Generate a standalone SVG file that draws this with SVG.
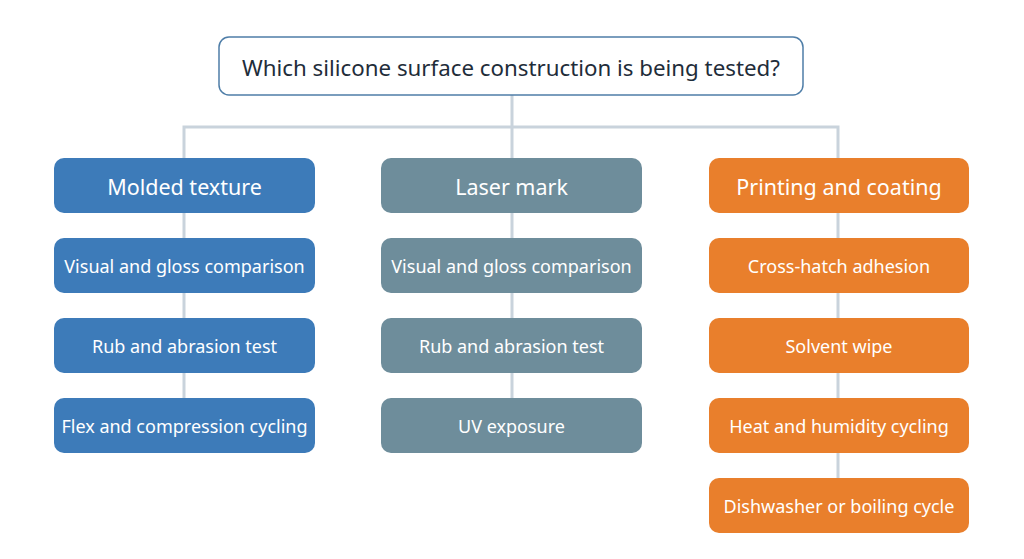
<svg xmlns="http://www.w3.org/2000/svg" width="1024" height="559" viewBox="0 0 1024 559">
<style>
text{font-family:"Noto Sans","Open Sans","Liberation Sans",sans-serif;text-anchor:middle;dominant-baseline:central;fill:#fff}
.q{fill:#fff;stroke:#4f7ea8;stroke-width:1.5}
.qt{fill:#1f2d3a;font-size:22.3px}
.b{fill:#3d7bb9}.s{fill:#6e8d9b}.o{fill:#e97f2c}
.h{font-size:21.5px}.i{font-size:18px}
.c{stroke:#c9d3dc;stroke-width:3;fill:none}
</style>
<rect width="1024" height="559" fill="#fff"/>
<g id="connectors">
<path class="c" d="M512 95V127M184 158V127H838V158M512 127V158"/>
<path class="c" d="M184 213V398M512 213V398M838 213V478"/>
</g>
<g id="q"><rect class="q" x="219" y="37" width="584" height="58" rx="10"/><text class="qt" x="511" y="67">Which silicone surface construction is being tested?</text></g>
<g id="molded"><rect class="b" x="54" y="158" width="261" height="55" rx="10"/><text class="h" x="184.5" y="186">Molded texture</text></g>
<g id="m1"><rect class="b" x="54" y="238" width="261" height="55" rx="10"/><text class="i" x="184.5" y="266">Visual and gloss comparison</text></g>
<g id="m2"><rect class="b" x="54" y="318" width="261" height="55" rx="10"/><text class="i" x="184.5" y="346">Rub and abrasion test</text></g>
<g id="m3"><rect class="b" x="54" y="398" width="261" height="55" rx="10"/><text class="i" x="184.5" y="426">Flex and compression cycling</text></g>
<g id="laser"><rect class="s" x="381" y="158" width="261" height="55" rx="10"/><text class="h" x="511.5" y="186">Laser mark</text></g>
<g id="l1"><rect class="s" x="381" y="238" width="261" height="55" rx="10"/><text class="i" x="511.5" y="266">Visual and gloss comparison</text></g>
<g id="l2"><rect class="s" x="381" y="318" width="261" height="55" rx="10"/><text class="i" x="511.5" y="346">Rub and abrasion test</text></g>
<g id="l3"><rect class="s" x="381" y="398" width="261" height="55" rx="10"/><text class="i" x="511.5" y="426">UV exposure</text></g>
<g id="print"><rect class="o" x="709" y="158" width="260" height="55" rx="10"/><text class="h" x="839" y="186">Printing and coating</text></g>
<g id="p1"><rect class="o" x="709" y="238" width="260" height="55" rx="10"/><text class="i" x="839" y="266">Cross-hatch adhesion</text></g>
<g id="p2"><rect class="o" x="709" y="318" width="260" height="55" rx="10"/><text class="i" x="839" y="346">Solvent wipe</text></g>
<g id="p3"><rect class="o" x="709" y="398" width="260" height="55" rx="10"/><text class="i" x="839" y="426">Heat and humidity cycling</text></g>
<g id="p4"><rect class="o" x="709" y="478" width="260" height="55" rx="10"/><text class="i" x="839" y="506">Dishwasher or boiling cycle</text></g>
</svg>
